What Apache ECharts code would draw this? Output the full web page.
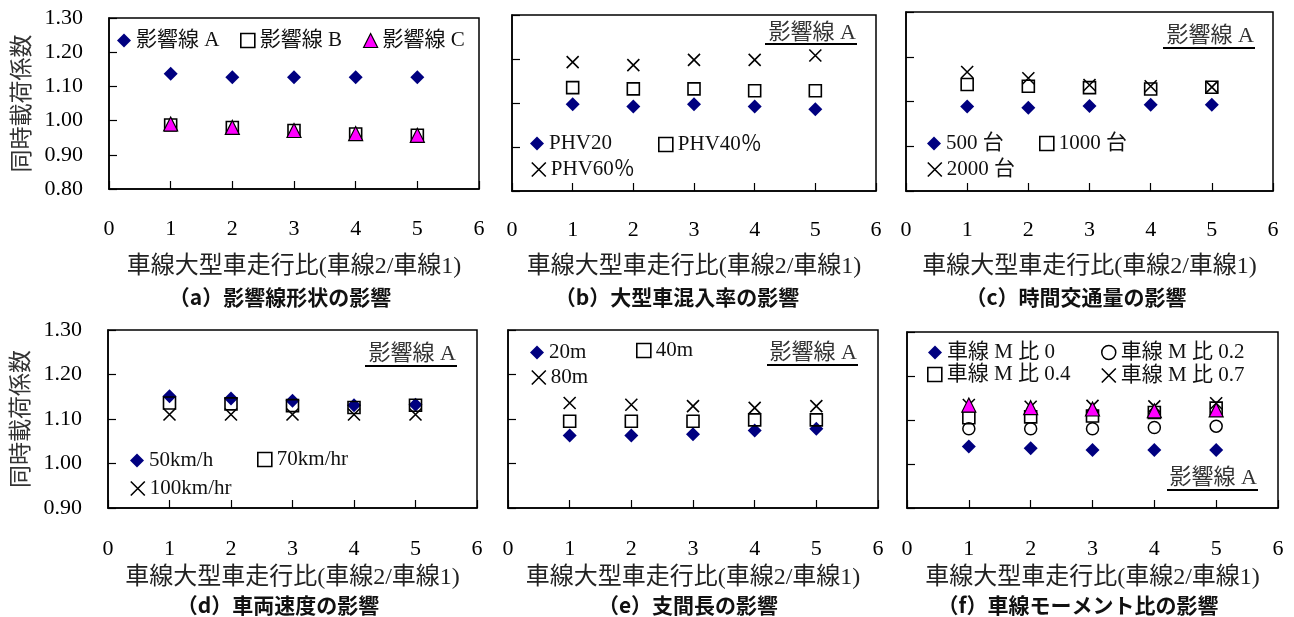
<!DOCTYPE html>
<html>
<head>
<meta charset="utf-8">
<script src="https://cdn.jsdelivr.net/npm/echarts@6/dist/echarts.min.js"></script>
<style>
  html, body { margin: 0; padding: 0; background: #fff; }
  #chart { width: 1294px; height: 617px; }
</style>
</head>
<body>
<div id="chart"></div>
<script>
// ---- data ----
const ratios = [1, 2, 3, 4, 5];          // 車線大型車走行比
const xTickValues = [0, 1, 2, 3, 4, 5, 6];

// (a) 影響線形状
const infA = [1.137, 1.127, 1.127, 1.127, 1.127];
const infB = [0.987, 0.980, 0.971, 0.961, 0.957];
const infC = [0.990, 0.980, 0.971, 0.962, 0.957];
// (b) 大型車混入率
const phv20 = [1.097, 1.092, 1.097, 1.092, 1.086];
const phv40 = [1.135, 1.132, 1.132, 1.128, 1.128];
const phv60 = [1.193, 1.186, 1.198, 1.198, 1.208];
// (c) 時間交通量
const vol500 = [1.089, 1.086, 1.090, 1.093, 1.093];
const vol1000 = [1.138, 1.134, 1.131, 1.128, 1.132];
const vol2000 = [1.166, 1.152, 1.137, 1.134, 1.132];
// (d) 車両速度
const v50 = [1.151, 1.146, 1.141, 1.131, 1.132];
const v70 = [1.136, 1.134, 1.130, 1.126, 1.131];
const v100 = [1.110, 1.110, 1.110, 1.110, 1.110];
// (e) 支間長
const span20 = [1.063, 1.063, 1.066, 1.074, 1.078];
const span40 = [1.095, 1.095, 1.095, 1.098, 1.098];
const span80 = [1.136, 1.132, 1.129, 1.125, 1.129];
// (f) 車線モーメント比
const m00 = [1.040, 1.036, 1.032, 1.032, 1.032];
const m02 = [1.080, 1.080, 1.080, 1.083, 1.086];
const m04 = [1.105, 1.107, 1.109, 1.117, 1.127];
const m07 = [1.134, 1.130, 1.132, 1.131, 1.138];
const mTri = [1.134, 1.128, 1.125, 1.121, 1.123];

const yRangeA = [0.8, 1.3];
const yRange = [0.9, 1.3];
const yStep = 0.1;

const xAxisTitle = '車線大型車走行比(車線2/車線1)';
const yAxisTitle = '同時載荷係数';
const captions = ['（a）影響線形状の影響', '（b）大型車混入率の影響', '（c）時間交通量の影響',
                  '（d）車両速度の影響', '（e）支間長の影響', '（f）車線モーメント比の影響'];
const tagText = '影響線 A';

// panel -> series [name, values, marker]
const panelSeries = [
  [['影響線 A', infA, 'diamond'], ['影響線 B', infB, 'square'], ['影響線 C', infC, 'triangle']],
  [['PHV20', phv20, 'diamond'], ['PHV40％', phv40, 'square'], ['PHV60％', phv60, 'cross']],
  [['500 台', vol500, 'diamond'], ['1000 台', vol1000, 'square'], ['2000 台', vol2000, 'cross']],
  [['50km/h', v50, 'diamond'], ['70km/hr', v70, 'square'], ['100km/hr', v100, 'cross']],
  [['20m', span20, 'diamond'], ['40m', span40, 'square'], ['80m', span80, 'cross']],
  [['車線 M 比 0', m00, 'diamond'], ['車線 M 比 0.2', m02, 'circle'], ['車線 M 比 0.4', m04, 'square'],
   ['車線 M 比 0.7', m07, 'cross'], [null, mTri, 'triangle']]
];

// ---- layout ----
const grids = [
  { left: 109, top: 18, width: 370, height: 171 },
  { left: 512, top: 15, width: 364, height: 176 },
  { left: 906, top: 12, width: 367, height: 179 },
  { left: 108, top: 330, width: 369, height: 178 },
  { left: 508, top: 330, width: 370, height: 178 },
  { left: 907, top: 332, width: 371, height: 176 }
];
const yLabelled = [true, false, false, true, false, false];
const captionPos = [[280, 297], [677, 297], [1076, 297], [278, 605], [688, 605], [1078, 605]];
// [x-left, x-right, text centre y, underline y]
const tagPos = [null, [765, 857, 33, 44], [1163, 1255, 36, 48], [365, 457, 354, 366], [767, 858, 353, 365], [1167, 1258, 478, 490]];
// legend icon centres
const legendPos = {
  '影響線 A': [124, 37], '影響線 B': [247, 37], '影響線 C': [370, 37],
  'PHV20': [537, 140], 'PHV40％': [665, 141], 'PHV60％': [538, 166],
  '500 台': [934, 140], '1000 台': [1046, 140], '2000 台': [934, 166],
  '50km/h': [137, 457], '70km/hr': [264, 456], '100km/hr': [137, 485],
  '20m': [537, 349], '40m': [643, 347], '80m': [538, 374],
  '車線 M 比 0': [935, 349], '車線 M 比 0.2': [1108, 349], '車線 M 比 0.4': [934, 371], '車線 M 比 0.7': [1108, 372]
};

const SERIF = "'Liberation Serif', 'Noto Sans CJK JP', serif";
const GOTHIC = "'Noto Sans CJK JP', sans-serif";
const CROSS = 'path://M0,0L10,10M10,0L0,10';

const markers = {
  diamond: { symbol: 'diamond', size: 14, icon: 'diamond', style: { color: '#000080', borderWidth: 0, opacity: 1 } },
  square: { symbol: 'rect', size: 12, icon: 'rect', style: { color: 'rgba(255,255,255,0)', borderColor: '#000', borderWidth: 1.6, opacity: 1 } },
  triangle: { symbol: 'triangle', size: 14, icon: 'triangle', style: { color: '#ff00ff', borderColor: '#000', borderWidth: 1.2, opacity: 1 } },
  circle: { symbol: 'circle', size: 12, icon: 'circle', style: { color: 'rgba(255,255,255,0)', borderColor: '#000', borderWidth: 1.5, opacity: 1 } },
  cross: { symbol: CROSS, size: 12, icon: CROSS, style: { color: 'rgba(255,255,255,0)', borderColor: '#000', borderWidth: 1.6, opacity: 1 } }
};

// ---- option ----
const gridOpts = [], xAxes = [], yAxes = [], series = [], legends = [], graphics = [];

grids.forEach((g, i) => {
  const bottomRow = i >= 3;
  gridOpts.push(Object.assign({ show: true, borderColor: '#000', borderWidth: 1.5, backgroundColor: 'transparent', outerBoundsMode: 'none', containLabel: false }, g));

  xAxes.push({
    type: 'value', gridIndex: i, min: xTickValues[0], max: xTickValues[xTickValues.length - 1], interval: 1,
    axisLine: { show: true, onZero: false, lineStyle: { color: '#000', width: 1.5 } },
    axisTick: { show: true, inside: true, length: 8, lineStyle: { color: '#000', width: 1.2 } },
    splitLine: { show: false },
    axisLabel: { show: true, margin: bottomRow ? 30 : (i === 0 ? 29 : 28), fontFamily: SERIF, fontSize: 22, color: '#000' },
    name: xAxisTitle, nameLocation: 'middle', nameGap: bottomRow ? 58 : (i === 0 ? 66 : 64),
    nameTextStyle: { fontFamily: SERIF, fontSize: 24, color: '#222' }
  });

  const yr = i === 0 ? yRangeA : yRange;
  yAxes.push({
    type: 'value', gridIndex: i, min: yr[0], max: yr[1], interval: yStep,
    axisLine: { show: true, onZero: false, lineStyle: { color: '#000', width: 1.5 } },
    axisTick: { show: true, inside: true, length: 8, lineStyle: { color: '#000', width: 1.2 } },
    splitLine: { show: false },
    axisLabel: { show: yLabelled[i], margin: 26, fontFamily: SERIF, fontSize: 22, color: '#000',
                 formatter: v => v.toFixed(2) },
    name: yLabelled[i] ? yAxisTitle : '', nameLocation: 'middle', nameRotate: 90, nameGap: 77,
    nameTextStyle: { fontFamily: GOTHIC, fontSize: 23, color: '#333' }
  });

  panelSeries[i].forEach(([name, vals, mk]) => {
    const m = markers[mk];
    const s = {
      type: 'scatter', xAxisIndex: i, yAxisIndex: i,
      symbol: m.symbol, symbolSize: m.size, itemStyle: m.style,
      data: ratios.map((x, k) => [x, vals[k]]),
      emphasis: { disabled: true }, silent: true
    };
    if (name) s.name = name;
    series.push(s);
    if (name && legendPos[name]) {
      const [cx, cy] = legendPos[name];
      legends.push({
        data: [name], left: cx - 7, top: cy - 7, padding: 0, itemWidth: 14, itemHeight: 14,
        icon: m.icon, itemStyle: m.style, selectedMode: false,
        textStyle: { fontFamily: SERIF, fontSize: 21, color: '#111' }
      });
    }
  });

  const [cx, cy] = captionPos[i];
  graphics.push({
    type: 'text', x: cx, y: cy,
    style: { text: captions[i], fontFamily: GOTHIC, fontWeight: 'bold', fontSize: 21, fill: '#111',
             textAlign: 'center', textVerticalAlign: 'middle' }
  });

  const t = tagPos[i];
  if (t) {
    graphics.push({
      type: 'text', x: t[1] - 1, y: t[2],
      style: { text: tagText, fontFamily: SERIF, fontSize: 22, fill: '#333', textAlign: 'right', textVerticalAlign: 'middle' }
    });
    graphics.push({
      type: 'line', shape: { x1: t[0], y1: t[3], x2: t[1], y2: t[3] },
      style: { stroke: '#000', lineWidth: 2 }
    });
  }
});

const chart = echarts.init(document.getElementById('chart'), null, { renderer: 'canvas' });
chart.setOption({
  animation: false,
  backgroundColor: '#fff',
  grid: gridOpts,
  xAxis: xAxes,
  yAxis: yAxes,
  legend: legends,
  series: series,
  graphic: graphics
});
</script>
</body>
</html>
